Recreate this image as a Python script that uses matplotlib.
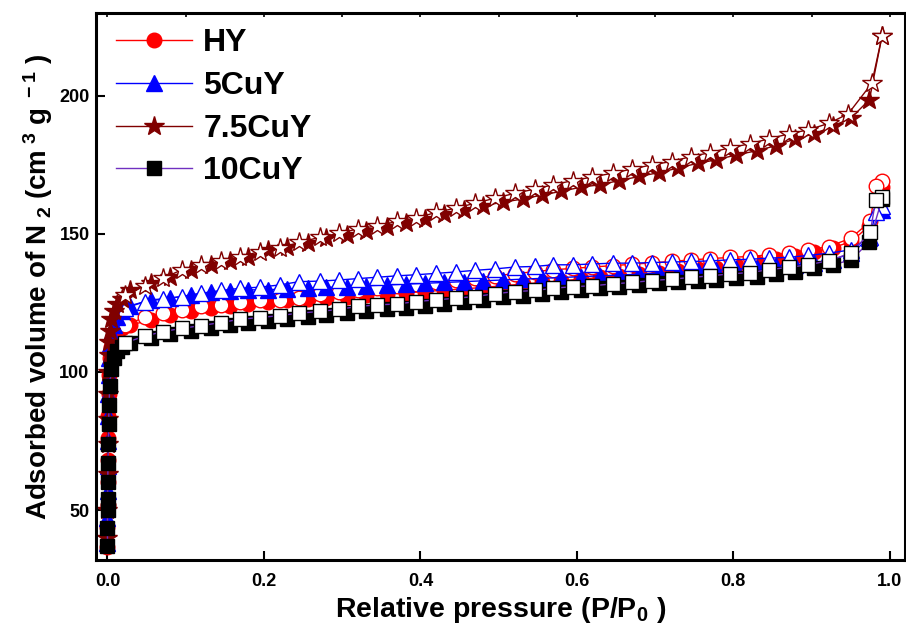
import matplotlib
matplotlib.use("Agg")
import matplotlib.pyplot as plt

plt.rcParams['font.family'] = ['Liberation Sans', 'DejaVu Sans']
plt.rcParams['font.weight'] = 'bold'
plt.rcParams['mathtext.fontset'] = 'custom'
plt.rcParams['mathtext.rm'] = 'Liberation Sans:bold'
plt.rcParams['mathtext.it'] = 'Liberation Sans:bold'
plt.rcParams['mathtext.bf'] = 'Liberation Sans:bold'
plt.rcParams['mathtext.default'] = 'rm'

# adsorption branch, relative pressure (same grid for all samples)
p_ads = [0.00002, 0.00005, 0.0001, 0.0002, 0.0004, 0.0007, 0.001, 0.0015, 0.002, 0.003,
         0.005, 0.008, 0.012, 0.018,
         0.029, 0.056, 0.080, 0.107, 0.133, 0.157, 0.180, 0.205, 0.230, 0.256,
         0.280, 0.306, 0.331, 0.357, 0.381, 0.406, 0.430, 0.456, 0.480, 0.505,
         0.531, 0.556, 0.580, 0.605, 0.630, 0.654, 0.680, 0.705, 0.729, 0.755,
         0.778, 0.804, 0.830, 0.854, 0.879, 0.903, 0.927, 0.951, 0.974, 0.990]

# desorption branch, relative pressure
p_des = [0.990, 0.982, 0.975, 0.950, 0.922, 0.896, 0.871, 0.845, 0.821, 0.796,
         0.770, 0.746, 0.721, 0.696, 0.671, 0.646, 0.620, 0.595, 0.570, 0.546,
         0.521, 0.495, 0.470, 0.445, 0.420, 0.395, 0.370, 0.345, 0.320, 0.296,
         0.272, 0.245, 0.220, 0.195, 0.170, 0.145, 0.120, 0.095, 0.071, 0.048, 0.023]
p_des_75 = [0.990, 0.977, 0.947, 0.922, 0.896, 0.871, 0.845, 0.821, 0.796,
            0.770, 0.746, 0.721, 0.696, 0.671, 0.646, 0.620, 0.595, 0.570, 0.546,
            0.521, 0.495, 0.470, 0.445, 0.420, 0.395, 0.370, 0.345, 0.320, 0.296,
            0.272, 0.245, 0.220, 0.195, 0.170, 0.145, 0.120, 0.095, 0.071, 0.048, 0.023]

hy_ads = [36.5, 44, 52, 60, 68, 76, 84, 92, 99, 105, 109, 112, 114.5, 116.0,
          117.0, 118.8, 120.7, 121.9, 123.1, 123.9, 124.6, 125.5, 126.1, 126.4,
          126.9, 127.3, 127.9, 128.3, 128.7, 129.1, 129.6, 130.1, 130.6, 131.2,
          131.8, 132.4, 133.0, 133.6, 134.2, 134.8, 135.4, 136.0, 136.6, 137.2,
          137.8, 138.6, 139.6, 140.8, 142.0, 143.4, 145.0, 147.2, 153.0, 167.0]
hy_des = [169.0, 167.2, 154.5, 148.4, 145.4, 144.2, 143.0, 142.4, 141.8, 141.5,
          141.0, 140.6, 140.0, 139.5, 139.0, 138.5, 138.0, 137.5, 137.0, 136.3,
          135.6, 134.8, 134.0, 133.2, 132.5, 131.7, 131.0, 130.3, 129.6, 128.9,
          128.2, 126.7, 126.1, 126.1, 125.5, 124.3, 123.7, 122.5, 121.3, 119.8, 117.0]

cu5_ads = [38, 47, 57, 66, 75, 84, 92, 99, 105, 110, 114, 117, 120, 122,
           124.0, 126.1, 126.7, 127.9, 128.8, 129.4, 129.7, 129.8, 130.0, 130.3,
           130.6, 130.9, 131.2, 131.5, 131.8, 132.1, 132.4, 132.7, 133.0, 133.3,
           133.6, 133.9, 134.2, 134.5, 134.8, 135.1, 135.4, 135.8, 136.1, 136.5,
           136.8, 137.2, 137.7, 138.2, 138.8, 139.4, 140.6, 143.0, 148.5, 158.5]
cu5_des = [160.0, 158.0, 149.0, 144.2, 143.0, 142.2, 141.5, 141.2, 140.8, 140.6,
           140.2, 140.0, 139.8, 139.6, 139.4, 139.4, 139.1, 138.8, 138.8, 138.2,
           138.0, 137.3, 136.8, 136.2, 135.7, 135.2, 134.8, 134.3, 133.8, 133.3,
           132.9, 132.7, 131.5, 130.7, 130.3, 129.5, 128.5, 127.3, 126.4, 125.5, 123.1]

cu75_ads = [40, 50, 63, 74, 83, 92, 100, 106, 111, 115, 119, 122, 124.5, 126.5,
            129.7, 132.1, 134.5, 137.0, 138.8, 140.0, 141.8, 144.2, 145.4, 146.6,
            148.4, 149.6, 151.2, 152.4, 153.9, 155.4, 157.1, 158.7, 160.1, 161.5,
            162.6, 164.1, 165.4, 166.9, 167.8, 169.3, 170.8, 172.2, 173.8, 175.6,
            176.8, 178.6, 180.1, 181.9, 184.4, 186.2, 188.9, 192.1, 198.6, 221.5]
cu75_des = [221.5, 204.5, 193.5, 190.0, 187.7, 186.2, 184.4, 182.6, 181.2,
            179.4, 178.0, 176.2, 175.0, 173.5, 172.0, 170.6, 169.3, 167.8, 166.2,
            164.7, 162.9, 161.1, 159.3, 157.8, 155.7, 154.5, 152.9, 151.8, 150.2,
            148.8, 146.9, 144.8, 143.6, 141.8, 140.2, 138.8, 137.0, 133.9, 131.2, 127.9]

cu10_ads = [37, 43.5, 50, 54, 60, 67, 74, 81, 88, 95, 101, 105, 107.5, 109.0,
            110.5, 112.3, 113.8, 115.0, 116.0, 117.0, 117.8, 118.6, 119.3, 120.0,
            120.7, 121.4, 122.0, 122.7, 123.3, 124.0, 124.6, 125.3, 126.0, 127.0,
            127.6, 128.3, 129.0, 129.7, 130.3, 130.9, 131.5, 132.1, 132.6, 133.1,
            133.4, 133.9, 134.5, 135.4, 136.3, 137.5, 138.8, 140.6, 147.2, 162.5]
cu10_des = [163.5, 162.3, 150.5, 143.0, 140.3, 138.8, 137.9, 137.0, 136.0, 135.5,
            134.8, 134.2, 133.6, 133.1, 132.4, 131.9, 131.2, 130.9, 130.3, 129.5,
            129.1, 128.3, 127.3, 126.7, 126.1, 125.5, 124.6, 124.3, 123.7, 122.7,
            121.9, 121.3, 120.4, 119.7, 119.1, 117.9, 116.8, 115.8, 114.6, 113.0, 110.6]

labels = ['HY', '5CuY', '7.5CuY', '10CuY']

series = [
    (hy_ads, hy_des, p_des, 'o', 10.5, 'red', 'red'),
    (cu5_ads, cu5_des, p_des, '^', 11.5, 'blue', 'blue'),
    (cu75_ads, cu75_des, p_des_75, '*', 14.5, '#800000', '#800000'),
    (cu10_ads, cu10_des, p_des, 's', 9.5, 'black', '#7030C0'),
]

fig = plt.figure(figsize=(9.06, 6.31), dpi=100)
ax = fig.add_axes([0.1065, 0.1125, 0.892, 0.867])

handles = []
for (ads, des, pd, mk, ms, mc, lc), lab in zip(series, labels):
    h, = ax.plot(p_ads, ads, color=lc, lw=1.0, marker=mk, ms=ms,
                 mfc=mc, mec=mc, mew=1.0, label=lab)
    ax.plot(pd, des, color=lc, lw=1.0, marker=mk, ms=ms,
            mfc='white', mec=mc, mew=1.0)
    handles.append(h)

ax.set_xlim(-0.014, 1.019)
ax.set_ylim(31.9, 230)
ax.set_xticks([0.0, 0.2, 0.4, 0.6, 0.8, 1.0])
ax.set_yticks([50, 100, 150, 200])
ax.tick_params(axis='both', direction='in', length=6.5, width=1.5, labelsize=13)
ax.tick_params(axis='x', pad=9)
ax.tick_params(axis='y', pad=5)
for s in ax.spines.values():
    s.set_linewidth(2.2)

top = ax.secondary_xaxis('top')
top.set_xticks([0.1 * i for i in range(11)])
top.tick_params(direction='in', length=3, width=1.2, labeltop=False)
top.set_xticklabels([])

ax.set_xlabel('Relative pressure (P/P$_{0}$ )', fontsize=20.5, fontweight='bold',
              labelpad=4)
ax.set_ylabel('Adsorbed volume of N$_{\\ 2}$ (cm$^{\\ 3}$ g$^{\\ -1}$ )', fontsize=20,
              fontweight='bold', labelpad=3)

ax.legend(handles=handles, loc='upper left', bbox_to_anchor=(0.0196, 0.978),
          frameon=False, fontsize=23, handlelength=2.4, handletextpad=0.35,
          labelspacing=0.4, borderaxespad=0, borderpad=0.1)

fig.savefig('out.png', dpi=100)
